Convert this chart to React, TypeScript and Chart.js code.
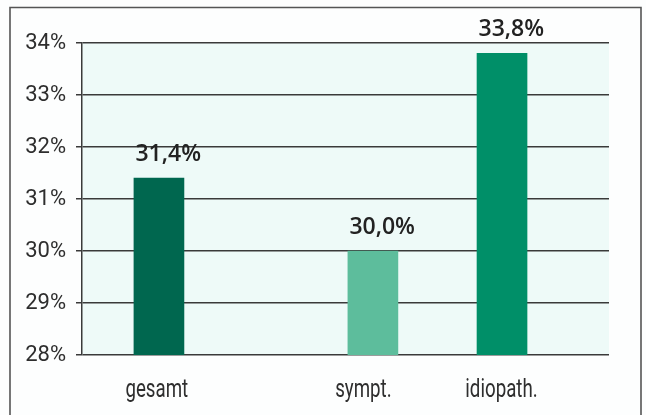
import React, { useEffect, useRef } from "react";
import { Chart, registerables } from "chart.js";

Chart.register(...registerables);

// Share of patients per group (percent)
const categories = ["gesamt", "sympt.", "idiopath."];
const values = [31.4, 30.0, 33.8];
const barColors = ["#00674f", "#5dbd9c", "#008f68"];
const yTicks = [28, 29, 30, 31, 32, 33, 34];

// Horizontal placement of the groups along the x axis (0..1 of the plot width)
const barSlots = [0.146, 0.552, 0.797];
const labelSlots = [0.142, 0.534, 0.796];

const W = 646;
const H = 415;

const fmt = (v: number) => v.toFixed(1).replace(".", ",") + "%";

const framePlugin = {
  id: "frame",
  beforeDraw(chart: any) {
    const { ctx, chartArea } = chart;
    ctx.save();
    ctx.fillStyle = "#fdfefe";
    ctx.fillRect(0, 0, chart.width, chart.height);
    ctx.fillStyle = "#eefaf8";
    ctx.fillRect(
      chartArea.left,
      chartArea.top,
      chartArea.right - chartArea.left,
      chartArea.bottom - chartArea.top
    );
    ctx.strokeStyle = "#555";
    ctx.lineWidth = 1.6;
    ctx.beginPath();
    ctx.moveTo(10, chart.height + 2);
    ctx.lineTo(10, 7.5);
    ctx.lineTo(641, 7.5);
    ctx.lineTo(641, chart.height + 2);
    ctx.stroke();
    ctx.restore();
  },
};

// Bar value labels and narrow category names under the x axis
const labelPlugin = {
  id: "labels",
  afterDatasetsDraw(chart: any) {
    const { ctx } = chart;
    const meta = chart.getDatasetMeta(0);
    const xScale = chart.scales.x;
    ctx.save();
    ctx.font = "600 23px 'Open Sans', 'DejaVu Sans', sans-serif";
    ctx.fillStyle = "#222";
    ctx.textAlign = "left";
    ctx.textBaseline = "alphabetic";
    meta.data.forEach((bar: any, i: number) => {
      const left = bar.x - bar.width / 2 + 1.5;
      ctx.fillText(fmt(values[i]), left, bar.y - 17.5);
    });

    ctx.font = "26px Roboto, 'DejaVu Sans Condensed', sans-serif";
    ctx.fillStyle = "#2e2e2e";
    ctx.textAlign = "center";
    categories.forEach((name, i) => {
      const x = xScale.getPixelForValue(labelSlots[i]);
      ctx.save();
      ctx.translate(x, chart.chartArea.bottom + 42);
      ctx.scale(0.72, 1);
      ctx.fillText(name, 0, 0);
      ctx.restore();
    });
    ctx.restore();
  },
};

export default function App() {
  const ref = useRef<HTMLCanvasElement>(null);

  useEffect(() => {
    if (!ref.current) return;
    const chart = new Chart(ref.current, {
      type: "bar",
      data: {
        labels: categories,
        datasets: [
          {
            data: values.map((v, i) => ({ x: barSlots[i], y: v })),
            backgroundColor: barColors,
            borderWidth: 0,
            barThickness: 50,
          },
        ],
      },
      options: {
        animation: false,
        responsive: false,
        devicePixelRatio: 1,
        layout: { padding: { left: 0, top: 43, right: 37, bottom: 0 } },
        plugins: {
          legend: { display: false },
          tooltip: { enabled: false },
        },
        scales: {
          x: {
            type: "linear",
            min: 0,
            max: 1,
            offset: false,
            grid: { display: false, drawTicks: false },
            border: { display: false },
            afterFit: (scale: any) => {
              scale.height = H - 355;
            },
            ticks: { display: false },
          },
          y: {
            min: 28,
            max: 34,
            afterBuildTicks: (scale: any) => {
              scale.ticks = yTicks.map((v) => ({ value: v }));
            },
            afterFit: (scale: any) => {
              scale.width = 82;
            },
            grid: {
              color: "#3a3a3a",
              lineWidth: 1.5,
              tickLength: 6,
            },
            border: { display: true, color: "#3a3a3a", width: 1.5 },
            ticks: {
              padding: 10,
              color: "#2e2e2e",
              font: { family: "Roboto, 'Liberation Sans', sans-serif", size: 22 },
              callback: (v: any) => v + "%",
            },
          },
        },
      },
      plugins: [framePlugin, labelPlugin],
    });
    return () => chart.destroy();
  }, []);

  return (
    <canvas
      ref={ref}
      width={W}
      height={H}
      style={{ position: "fixed", left: 0, top: 0, width: W, height: H }}
    />
  );
}
